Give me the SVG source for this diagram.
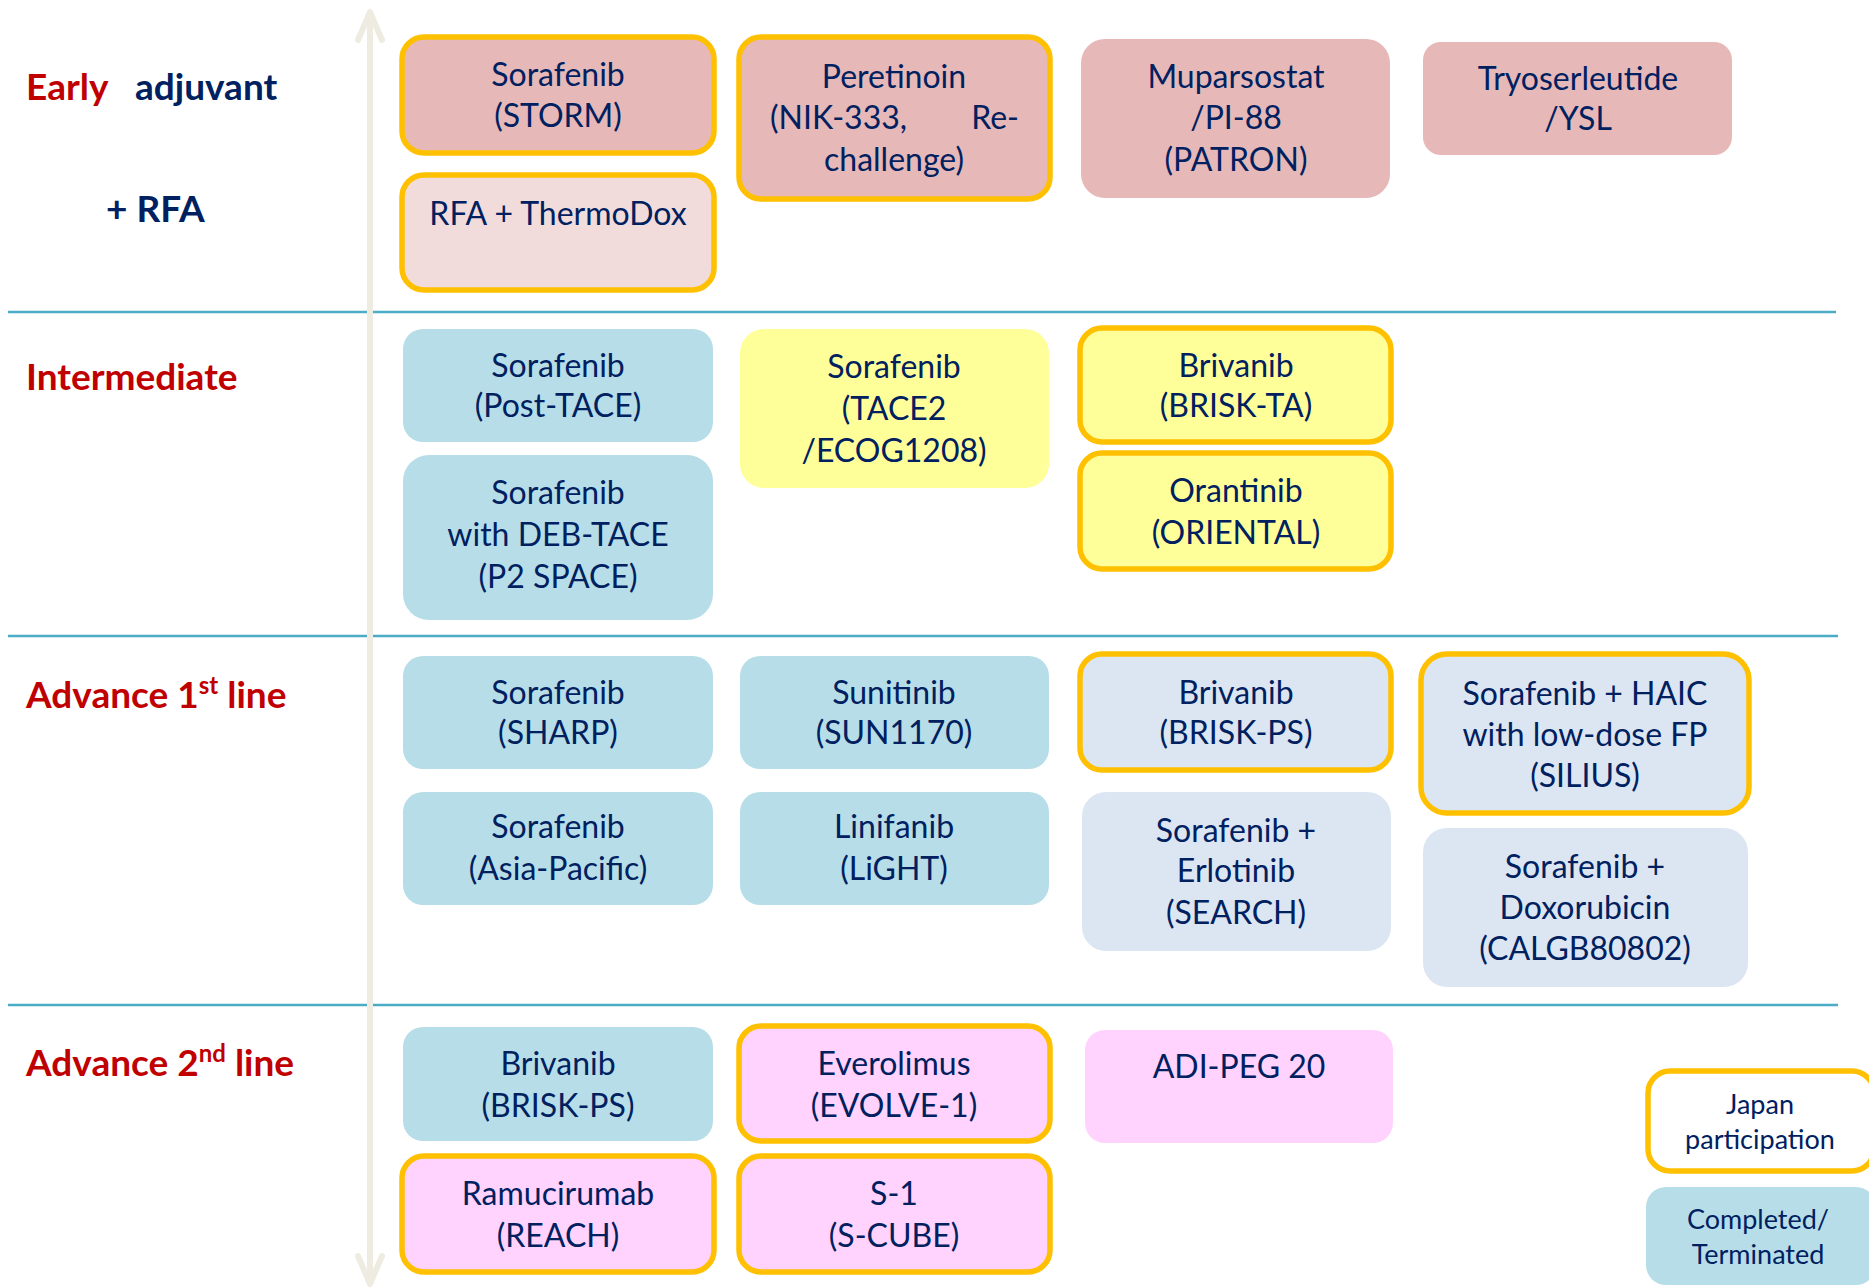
<svg xmlns="http://www.w3.org/2000/svg" width="1869" height="1287" viewBox="0 0 1869 1287">
<style>
.n{font-family:Lato,"Liberation Sans",sans-serif;font-size:32px;fill:#002060;text-anchor:middle}
.lg{font-family:Lato,"Liberation Sans",sans-serif;font-size:27px;fill:#002060;text-anchor:middle}
.lab{font-family:Lato,"Liberation Sans",sans-serif;font-size:37px;font-weight:bold}
.red{fill:#C00000}
.navy{fill:#002060}
.j{stroke:#FFC000;stroke-width:5.5}
.pk{fill:#E6B8B7}
.lpk{fill:#F2DCDB}
.bl{fill:#B7DEE8}
.ye{fill:#FFFF99}
.gb{fill:#DCE6F2}
.mg{fill:#FFD3FE}
.wh{fill:#FFFFFF}
.sep{stroke:#4BACC6;stroke-width:2.5}
.ax{stroke:#EEECE1;stroke-width:6;fill:none;stroke-linecap:round;stroke-linejoin:round}
</style>
<rect x="0" y="0" width="1869" height="1287" fill="#FFFFFF"/>
<g id="connectors">
<line class="sep" x1="8" y1="312" x2="1836" y2="312"/>
<line class="sep" x1="8" y1="636" x2="1838" y2="636"/>
<line class="sep" x1="8" y1="1005" x2="1838" y2="1005"/>
<line class="ax" x1="370" y1="14" x2="370" y2="1282"/>
<polyline class="ax" points="358,40 370,12 382,40"/>
<polyline class="ax" points="358,1256 370,1284 382,1256"/>
</g>
<g id="labels">
<text class="lab red" x="26" y="100">Early</text>
<text class="lab navy" x="135" y="100">adjuvant</text>
<text class="lab navy" x="106" y="222">+ RFA</text>
<text class="lab red" x="26" y="390">Intermediate</text>
<text class="lab red" x="26" y="708">Advance 1<tspan font-size="24" dy="-14">st</tspan><tspan dy="14"> line</tspan></text>
<text class="lab red" x="26" y="1076">Advance 2<tspan font-size="24" dy="-14">nd</tspan><tspan dy="14"> line</tspan></text>
</g>
<g id="n-storm"><rect class="pk j" x="402" y="37" width="312" height="116" rx="22"/><text class="n" x="558"><tspan x="558" y="86">Sorafenib</tspan><tspan x="558" y="127">(STORM)</tspan></text></g>
<g id="n-thermodox"><rect class="lpk j" x="402" y="175" width="312" height="115" rx="22"/><text class="n" x="558" y="225">RFA + ThermoDox</text></g>
<g id="n-peretinoin"><rect class="pk j" x="739" y="37" width="311" height="162" rx="22"/><text class="n"><tspan x="894" y="88">Peretinoin</tspan><tspan x="770" y="129" text-anchor="start">(NIK-333,</tspan><tspan x="1019" y="129" text-anchor="end">Re-</tspan><tspan x="894" y="171">challenge)</tspan></text></g>
<g id="n-muparsostat"><rect class="pk" x="1081" y="39" width="309" height="159" rx="24"/><text class="n"><tspan x="1236" y="88">Muparsostat</tspan><tspan x="1236" y="129">/PI-88</tspan><tspan x="1236" y="171">(PATRON)</tspan></text></g>
<g id="n-tryoserleutide"><rect class="pk" x="1423" y="42" width="309" height="113" rx="18"/><text class="n"><tspan x="1578" y="90">Tryoserleutide</tspan><tspan x="1578" y="130">/YSL</tspan></text></g>

<g id="n-posttace"><rect class="bl" x="403" y="329" width="310" height="113" rx="20"/><text class="n"><tspan x="558" y="377">Sorafenib</tspan><tspan x="558" y="417">(Post-TACE)</tspan></text></g>
<g id="n-p2space"><rect class="bl" x="403" y="455" width="310" height="165" rx="26"/><text class="n"><tspan x="558" y="504">Sorafenib</tspan><tspan x="558" y="546">with DEB-TACE</tspan><tspan x="558" y="588">(P2 SPACE)</tspan></text></g>
<g id="n-tace2"><rect class="ye" x="740" y="329" width="309" height="159" rx="24"/><text class="n"><tspan x="894" y="378">Sorafenib</tspan><tspan x="894" y="420">(TACE2</tspan><tspan x="894" y="462">/ECOG1208)</tspan></text></g>
<g id="n-brisk-ta"><rect class="ye j" x="1080" y="328" width="311" height="114" rx="22"/><text class="n"><tspan x="1236" y="377">Brivanib</tspan><tspan x="1236" y="417">(BRISK-TA)</tspan></text></g>
<g id="n-oriental"><rect class="ye j" x="1080" y="453" width="311" height="116" rx="22"/><text class="n"><tspan x="1236" y="502">Orantinib</tspan><tspan x="1236" y="544">(ORIENTAL)</tspan></text></g>

<g id="n-sharp"><rect class="bl" x="403" y="656" width="310" height="113" rx="20"/><text class="n"><tspan x="558" y="704">Sorafenib</tspan><tspan x="558" y="744">(SHARP)</tspan></text></g>
<g id="n-asiapacific"><rect class="bl" x="403" y="792" width="310" height="113" rx="20"/><text class="n"><tspan x="558" y="838">Sorafenib</tspan><tspan x="558" y="880">(Asia-Pacific)</tspan></text></g>
<g id="n-sun1170"><rect class="bl" x="740" y="656" width="309" height="113" rx="20"/><text class="n"><tspan x="894" y="704">Sunitinib</tspan><tspan x="894" y="744">(SUN1170)</tspan></text></g>
<g id="n-light"><rect class="bl" x="740" y="792" width="309" height="113" rx="20"/><text class="n"><tspan x="894" y="838">Linifanib</tspan><tspan x="894" y="880">(LiGHT)</tspan></text></g>
<g id="n-brisk-ps1"><rect class="gb j" x="1080" y="654" width="311" height="116" rx="22"/><text class="n"><tspan x="1236" y="704">Brivanib</tspan><tspan x="1236" y="744">(BRISK-PS)</tspan></text></g>
<g id="n-search"><rect class="gb" x="1082" y="792" width="309" height="159" rx="24"/><text class="n"><tspan x="1236" y="842">Sorafenib +</tspan><tspan x="1236" y="882">Erlotinib</tspan><tspan x="1236" y="924">(SEARCH)</tspan></text></g>
<g id="n-silius"><rect class="gb j" x="1421" y="654" width="328" height="159" rx="26"/><text class="n"><tspan x="1585" y="705">Sorafenib + HAIC</tspan><tspan x="1585" y="746">with low-dose FP</tspan><tspan x="1585" y="787">(SILIUS)</tspan></text></g>
<g id="n-calgb"><rect class="gb" x="1423" y="828" width="325" height="159" rx="24"/><text class="n"><tspan x="1585" y="878">Sorafenib +</tspan><tspan x="1585" y="919">Doxorubicin</tspan><tspan x="1585" y="960">(CALGB80802)</tspan></text></g>

<g id="n-brisk-ps2"><rect class="bl" x="403" y="1027" width="310" height="114" rx="20"/><text class="n"><tspan x="558" y="1075">Brivanib</tspan><tspan x="558" y="1117">(BRISK-PS)</tspan></text></g>
<g id="n-reach"><rect class="mg j" x="402" y="1156" width="312" height="116" rx="22"/><text class="n"><tspan x="558" y="1205">Ramucirumab</tspan><tspan x="558" y="1247">(REACH)</tspan></text></g>
<g id="n-evolve"><rect class="mg j" x="739" y="1026" width="311" height="115" rx="22"/><text class="n"><tspan x="894" y="1075">Everolimus</tspan><tspan x="894" y="1117">(EVOLVE-1)</tspan></text></g>
<g id="n-scube"><rect class="mg j" x="739" y="1156" width="311" height="116" rx="22"/><text class="n"><tspan x="894" y="1205">S-1</tspan><tspan x="894" y="1247">(S-CUBE)</tspan></text></g>
<g id="n-adipeg"><rect class="mg" x="1085" y="1030" width="308" height="113" rx="20"/><text class="n" x="1239" y="1078">ADI-PEG 20</text></g>

<g id="legend-japan"><rect class="wh j" x="1648" y="1071" width="226" height="100" rx="22"/><text class="lg"><tspan x="1760" y="1114">Japan</tspan><tspan x="1760" y="1149">participation</tspan></text></g>
<g id="legend-completed"><rect class="bl" x="1646" y="1187" width="230" height="98" rx="20"/><text class="lg"><tspan x="1758" y="1229">Completed/</tspan><tspan x="1758" y="1264">Terminated</tspan></text></g>
</svg>
